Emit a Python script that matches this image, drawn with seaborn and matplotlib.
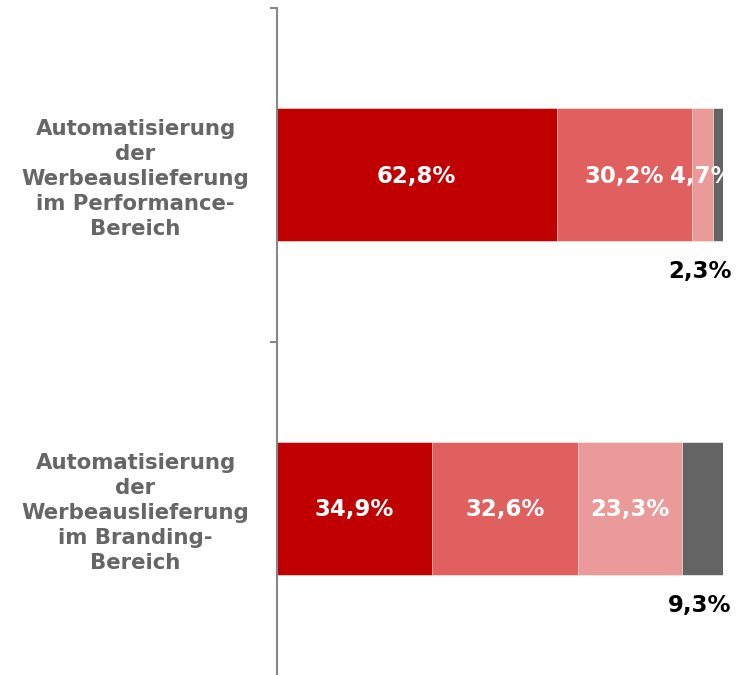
import matplotlib
matplotlib.use("Agg")
import matplotlib.pyplot as plt
import seaborn as sns
import numpy as np
import pandas as pd

# Survey answers per statement (share of respondents, %)
categories = [
    "Automatisierung\nder\nWerbeauslieferung\nim Performance-\nBereich",
    "Automatisierung\nder\nWerbeauslieferung\nim Branding-\nBereich",
]
answer_1 = [62.8, 34.9]
answer_2 = [30.2, 32.6]
answer_3 = [4.7, 23.3]
answer_4 = [2.3, 9.3]
series = [answer_1, answer_2, answer_3, answer_4]
colors = ["#C00000", "#E06060", "#EB9A9A", "#646464"]

sns.set_theme(style="white")
plt.rcParams["font.family"] = ["DejaVu Sans"]

fig = plt.figure(figsize=(7.42, 6.75), dpi=100)
ax = fig.add_axes([276.5 / 742, 0.0, (723 - 276.5) / 742, 1 - 8 / 675])

values = np.array(series)            # shape (n_series, n_categories)
cum = np.cumsum(values, axis=0)
starts = cum - values

# Stacked bars: draw cumulative totals from the outermost layer inward
for i in range(len(series) - 1, -1, -1):
    df = pd.DataFrame({"cat": categories, "val": cum[i]})
    sns.barplot(data=df, x="val", y="cat", orient="h", color=colors[i],
                saturation=1, width=0.4, ax=ax, edgecolor="white",
                linewidth=0.4)

ax.set_xlim(0, 100)
ax.set_ylim(1.5, -0.5)

def fmt(v):
    return f"{v:.1f}%".replace(".", ",")

for i, s in enumerate(series):
    for j, v in enumerate(s):
        if i == len(series) - 1:
            ax.annotate(fmt(v), xy=(cum[i][j], j), xytext=(6, -70),
                        textcoords="offset points", ha="right", va="center",
                        fontsize=16.5, fontweight="bold", color="black",
                        annotation_clip=False)
        else:
            ax.text(starts[i][j] + v / 2, j + 0.005, fmt(v), ha="center",
                    va="center", fontsize=16.5, fontweight="bold",
                    color="white", clip_on=True)

# Axis styling: only the left spine with ticks at category boundaries
for side in ["top", "right", "bottom"]:
    ax.spines[side].set_visible(False)
ax.spines["left"].set_color("#878787")
ax.spines["left"].set_linewidth(1.5)
ax.set_xticks([])
ax.set_xlabel("")
ax.set_ylabel("")

ax.set_yticks([-0.5, 0.5])
ax.set_yticklabels(["", ""])
ax.tick_params(axis="y", which="major", length=5, width=1.5,
               color="#878787", left=True)
ax.set_yticks([0, 1], minor=True)
ax.set_yticklabels(categories, minor=True)
ax.tick_params(axis="y", which="minor", length=0, pad=19.5,
               labelsize=15.3, labelcolor="#666666")
for lbl in ax.get_yticklabels(minor=True):
    lbl.set_fontweight("bold")
    lbl.set_multialignment("center")
    lbl.set_linespacing(1.31)

fig.savefig("out.png", dpi=100)
